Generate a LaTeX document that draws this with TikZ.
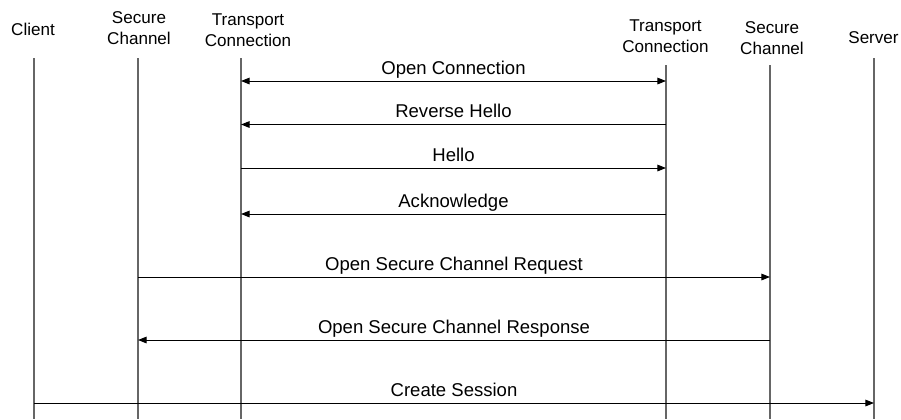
\documentclass[tikz,border=0pt]{standalone}
\usepackage{fontspec}
\setmainfont{Liberation Sans}
\usetikzlibrary{arrows.meta}

\begin{document}
\begin{tikzpicture}[x=0.75pt,y=0.75pt,yscale=-1,xscale=1,
  head/.style={align=center,inner sep=0.75pt,font=\fontsize{12.8}{15.8}\selectfont},
  life/.style={draw=black!60,line width=0.8pt},
  tip/.style={-{Triangle[length=6.5pt,width=5pt]}},
  msg/.style={draw=black,line width=0.75pt,tip},
  msglabel/.style={anchor=base,inner sep=0pt,yshift=5.25pt,font=\fontsize{13.9}{16}\selectfont}]
\useasboundingbox (0,0) rectangle (901,419);

% Text Node
\node[head] (client) at (33,29.5) {Client};
% Text Node
\node[head] (scA) at (139,28.5) {Secure\\Channel};
% Text Node
\node[head] (tcA) at (248,30.5) {Transport\\Connection};
% Text Node
\node[head] (tcB) at (665.5,36.5) {Transport\\Connection};
% Text Node
\node[head] (scB) at (772,38) {Secure\\Channel};
% Text Node
\node[head] (server) at (873.5,37.5) {Server};

%Lifelines
\coordinate (clientT) at (34,58);   \coordinate (clientB) at (34,419);
\coordinate (scAT) at (138,58);     \coordinate (scAB) at (138,419);
\coordinate (tcAT) at (241,58);     \coordinate (tcAB) at (241,419);
\coordinate (tcBT) at (666,65);     \coordinate (tcBB) at (666,419);
\coordinate (scBT) at (770,65);     \coordinate (scBB) at (770,419);
\coordinate (serverT) at (874,58);  \coordinate (serverB) at (874,419);
\foreach \l in {client,scA,tcA,tcB,scB,server}
  \draw[life] (\l T) -- (\l B);

%Message heights
\coordinate (m1) at (0,81);
\coordinate (m2) at (0,124.5);
\coordinate (m3) at (0,168);
\coordinate (m4) at (0,214);
\coordinate (m5) at (0,277);
\coordinate (m6) at (0,340);
\coordinate (m7) at (0,403);

%Straight Lines
\draw[msg,{Triangle[length=6.5pt,width=5pt]}-{Triangle[length=6.5pt,width=5pt]}] (tcAT |- m1) -- node[msglabel] {Open Connection} (tcBT |- m1);
%Straight Lines
\draw[msg] (tcBT |- m2) -- node[msglabel] {Reverse Hello} (tcAT |- m2);
%Straight Lines
\draw[msg] (tcAT |- m3) -- node[msglabel] {Hello} (tcBT |- m3);
%Straight Lines
\draw[msg] (tcBT |- m4) -- node[msglabel] {Acknowledge} (tcAT |- m4);
%Straight Lines
\draw[msg] (scAT |- m5) -- node[msglabel] {Open Secure Channel Request} (scBT |- m5);
%Straight Lines
\draw[msg] (scBT |- m6) -- node[msglabel] {Open Secure Channel Response} (scAT |- m6);
%Straight Lines
\draw[msg] (clientT |- m7) -- node[msglabel] {Create Session} (serverT |- m7);

\end{tikzpicture}
\end{document}
